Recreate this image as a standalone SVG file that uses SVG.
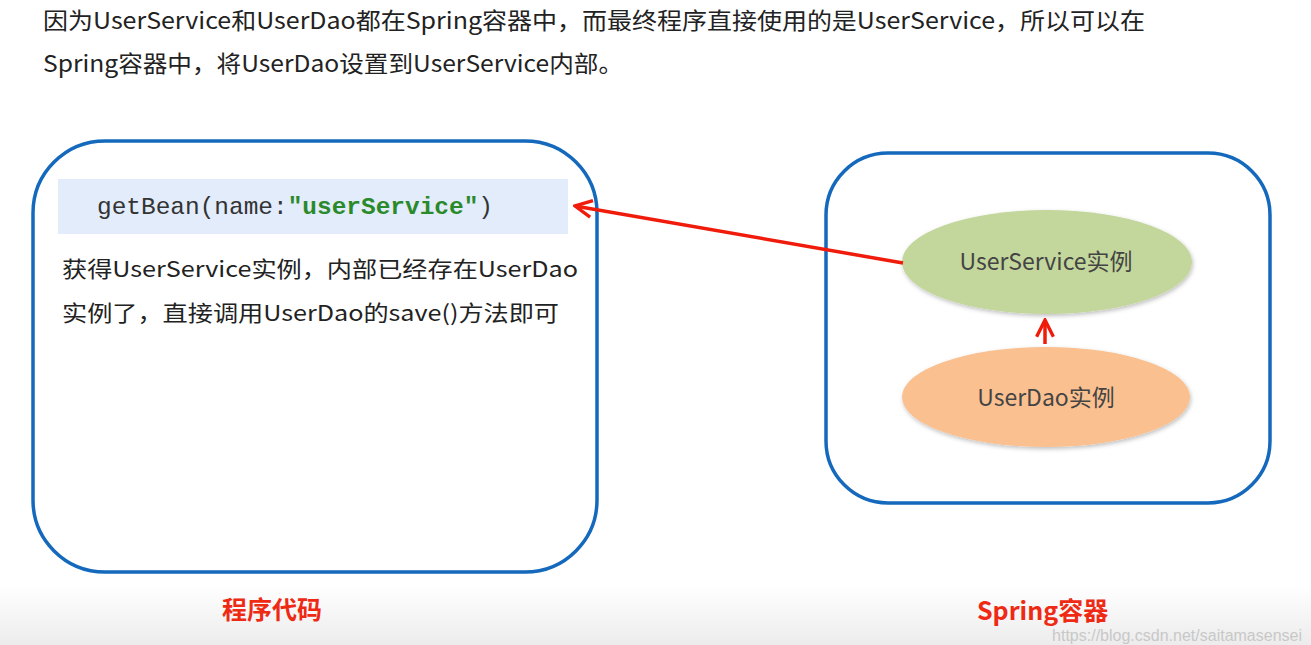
<svg xmlns="http://www.w3.org/2000/svg" width="1311" height="645" viewBox="0 0 1311 645">
<defs>
<linearGradient id="bot" x1="0" y1="0" x2="0" y2="1">
<stop offset="0" stop-color="#ffffff"/>
<stop offset="1" stop-color="#ececec"/>
</linearGradient>
<filter id="sh" x="-10%" y="-10%" width="120%" height="130%">
<feDropShadow dx="1" dy="2" stdDeviation="2" flood-color="#000" flood-opacity="0.25"/>
</filter>
<marker id="ah" viewBox="0 0 10 10" refX="9" refY="5" markerWidth="6" markerHeight="6" orient="auto" markerUnits="strokeWidth">
<path d="M1,1 L9,5 L1,9" fill="none" stroke="#f01b0a" stroke-width="1.6"/>
</marker>
<style>
.t{font-family:"Noto Sans CJK SC","Noto Sans",sans-serif;fill:#222;}
.box{fill:none;stroke:#1469bd;stroke-width:3.5;}
.lab{font-family:"Noto Sans CJK SC","Noto Sans",sans-serif;font-weight:bold;fill:#ee2a14;font-size:25px;}
.conn{stroke:#f01b0a;stroke-width:3.5;fill:none;}
.node{font-family:"Noto Sans CJK SC","Noto Sans",sans-serif;fill:#444;font-size:23px;}
</style>
</defs>
<rect width="1311" height="645" fill="#fff"/>
<rect x="0" y="585" width="1311" height="60" fill="url(#bot)"/>

<g id="intro">
<text class="t" x="43" y="29" font-size="23" textLength="1102" lengthAdjust="spacingAndGlyphs">因为UserService和UserDao都在Spring容器中，而最终程序直接使用的是UserService，所以可以在</text>
<text class="t" x="43" y="72" font-size="23" textLength="580" lengthAdjust="spacingAndGlyphs">Spring容器中，将UserDao设置到UserService内部。</text>
</g>

<g id="program-code">
<rect class="box" x="33" y="141" width="564" height="431" rx="72"/>
<rect x="58" y="179" width="510" height="55" fill="#e2ecfb"/>
<text x="97" y="214" font-family="'Liberation Mono',monospace" font-size="24" fill="#333" textLength="396" lengthAdjust="spacingAndGlyphs">getBean(name:<tspan font-weight="bold" fill="#2a8a2a">"userService"</tspan>)</text>
<text class="t" x="62" y="277" font-size="22" textLength="516" lengthAdjust="spacingAndGlyphs">获得UserService实例，内部已经存在UserDao</text>
<text class="t" x="62" y="321" font-size="22" textLength="497" lengthAdjust="spacingAndGlyphs">实例了，直接调用UserDao的save()方法即可</text>
<text class="lab" x="272" y="619" text-anchor="middle">程序代码</text>
</g>

<g id="spring-container">
<rect class="box" x="826" y="153" width="444" height="350" rx="62"/>
<text class="lab" x="977" y="620">Spring容器</text>
</g>

<g id="userservice">
<ellipse cx="1047" cy="262" rx="145" ry="52" fill="#c3d69b" filter="url(#sh)"/>
<text class="node" x="1046" y="270" text-anchor="middle">UserService实例</text>
</g>

<g id="userdao">
<ellipse cx="1046" cy="397" rx="144" ry="50" fill="#fac090" filter="url(#sh)"/>
<text class="node" x="1046" y="406" text-anchor="middle">UserDao实例</text>
</g>

<g id="connectors">
<line class="conn" x1="903" y1="263" x2="575" y2="206" marker-end="url(#ah)"/>
<line class="conn" x1="1045" y1="344" x2="1045" y2="320" marker-end="url(#ah)"/>
</g>

<text x="1302" y="641" text-anchor="end" font-family="'Liberation Sans',sans-serif" font-size="16" fill="#c8c8c8">https://blog.csdn.net/saitamasensei</text>
</svg>
